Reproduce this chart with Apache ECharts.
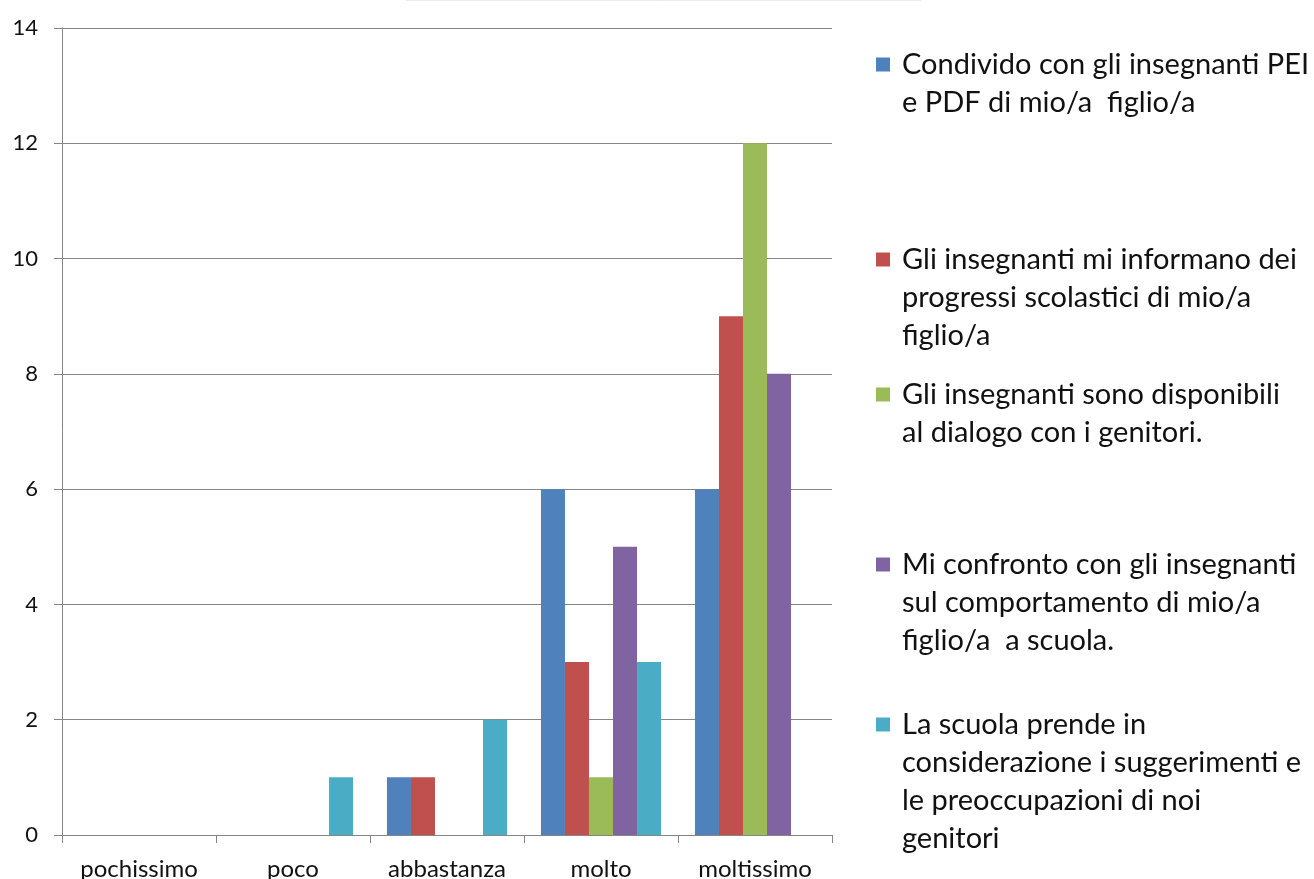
<!DOCTYPE html>
<html>
<head>
<meta charset="utf-8">
<script src="https://cdn.jsdelivr.net/npm/echarts@6/dist/echarts.min.js"></script>
<style>html,body{margin:0;padding:0;background:#fff}#c{width:1314px;height:879px}</style>
</head>
<body>
<div id="c"></div>
<script>
var categories = ['pochissimo', 'poco', 'abbastanza', 'molto', 'moltissimo'];
var seriesNames = [
  'Condivido con gli insegnanti PEI e PDF di mio/a  figlio/a',
  'Gli insegnanti mi informano dei progressi scolastici di mio/a figlio/a',
  'Gli insegnanti sono disponibili al dialogo con i genitori.',
  'Mi confronto con gli insegnanti sul comportamento di mio/a figlio/a  a scuola.',
  'La scuola prende in considerazione i suggerimenti e le preoccupazioni di noi genitori'
];
var legendLines = [
  ['Condivido con gli insegnanti PEI', 'e PDF di mio/a  figlio/a'],
  ['Gli insegnanti mi informano dei', 'progressi scolastici di mio/a', 'figlio/a'],
  ['Gli insegnanti sono disponibili', 'al dialogo con i genitori.'],
  ['Mi confronto con gli insegnanti', 'sul comportamento di mio/a', 'figlio/a  a scuola.'],
  ['La scuola prende in', 'considerazione i suggerimenti e', 'le preoccupazioni di noi', 'genitori']
];
var condivido = [0, 0, 1, 6, 6];
var informano = [0, 0, 1, 3, 9];
var disponibili = [0, 0, 0, 1, 12];
var confronto = [0, 0, 0, 5, 8];
var suggerimenti = [0, 1, 2, 3, 0];
var yTicks = [0, 2, 4, 6, 8, 10, 12, 14];
var colors = ['#4F81BD', '#C0504D', '#9BBB59', '#8064A2', '#4BACC6'];

var values = [condivido, informano, disponibili, confronto, suggerimenti];
var FONT = 'Lato';
var LH = 38;
var legendFirstLineY = [63, 258, 393, 563, 723];

var chart = echarts.init(document.getElementById('c'), null, {renderer: 'canvas'});

var legends = seriesNames.map(function (name, i) {
  var n = legendLines[i].length;
  var H = LH * (2 * n - 1);
  return {
    data: [name],
    left: 876,
    top: legendFirstLineY[i] - H / 2 + 6,
    padding: 0,
    orient: 'vertical',
    icon: 'rect',
    itemWidth: 14,
    itemHeight: 14,
    itemGap: 0,
    selectedMode: false,
    formatter: function () {
      var out = [];
      for (var k = 0; k < n - 1; k++) out.push('{t| }');
      legendLines[i].forEach(function (l) { out.push('{t|' + l + '}'); });
      return out.join('\n');
    },
    textStyle: {
      rich: {
        t: {
          fontFamily: FONT,
          fontSize: 29,
          color: '#111',
          lineHeight: LH,
          padding: [0, 0, 0, 7]
        }
      }
    }
  };
});

var series = seriesNames.map(function (name, i) {
  return {
    name: name,
    type: 'bar',
    data: values[i],
    barGap: '0%',
    barCategoryGap: '22%',
    itemStyle: {color: colors[i]},
    emphasis: {disabled: true}
  };
});

chart.setOption({
  animation: false,
  backgroundColor: '#fff',
  legend: legends,
  grid: {left: 62, right: 482, top: 28, bottom: 44, containLabel: false, outerBoundsMode: 'none'},
  xAxis: {
    type: 'category',
    data: categories,
    axisLine: {lineStyle: {color: '#868686', width: 1}},
    axisTick: {show: true, length: 8, alignWithLabel: false, lineStyle: {color: '#868686'}},
    axisLabel: {fontFamily: FONT, fontSize: 24, color: '#111', margin: 22},
    splitLine: {show: false}
  },
  yAxis: {
    type: 'value',
    min: yTicks[0],
    max: yTicks[yTicks.length - 1],
    interval: 2,
    axisLine: {show: true, lineStyle: {color: '#868686', width: 1}},
    axisTick: {show: true, length: 8, lineStyle: {color: '#868686'}},
    axisLabel: {fontFamily: FONT, fontSize: 22, color: '#111', margin: 24},
    splitLine: {show: true, lineStyle: {color: '#868686', width: 1}}
  },
  graphic: [{
    type: 'line',
    shape: {x1: 406, y1: 0.5, x2: 921, y2: 0.5},
    style: {stroke: '#ececec', lineWidth: 1}
  }],
  series: series
});
</script>
</body>
</html>
